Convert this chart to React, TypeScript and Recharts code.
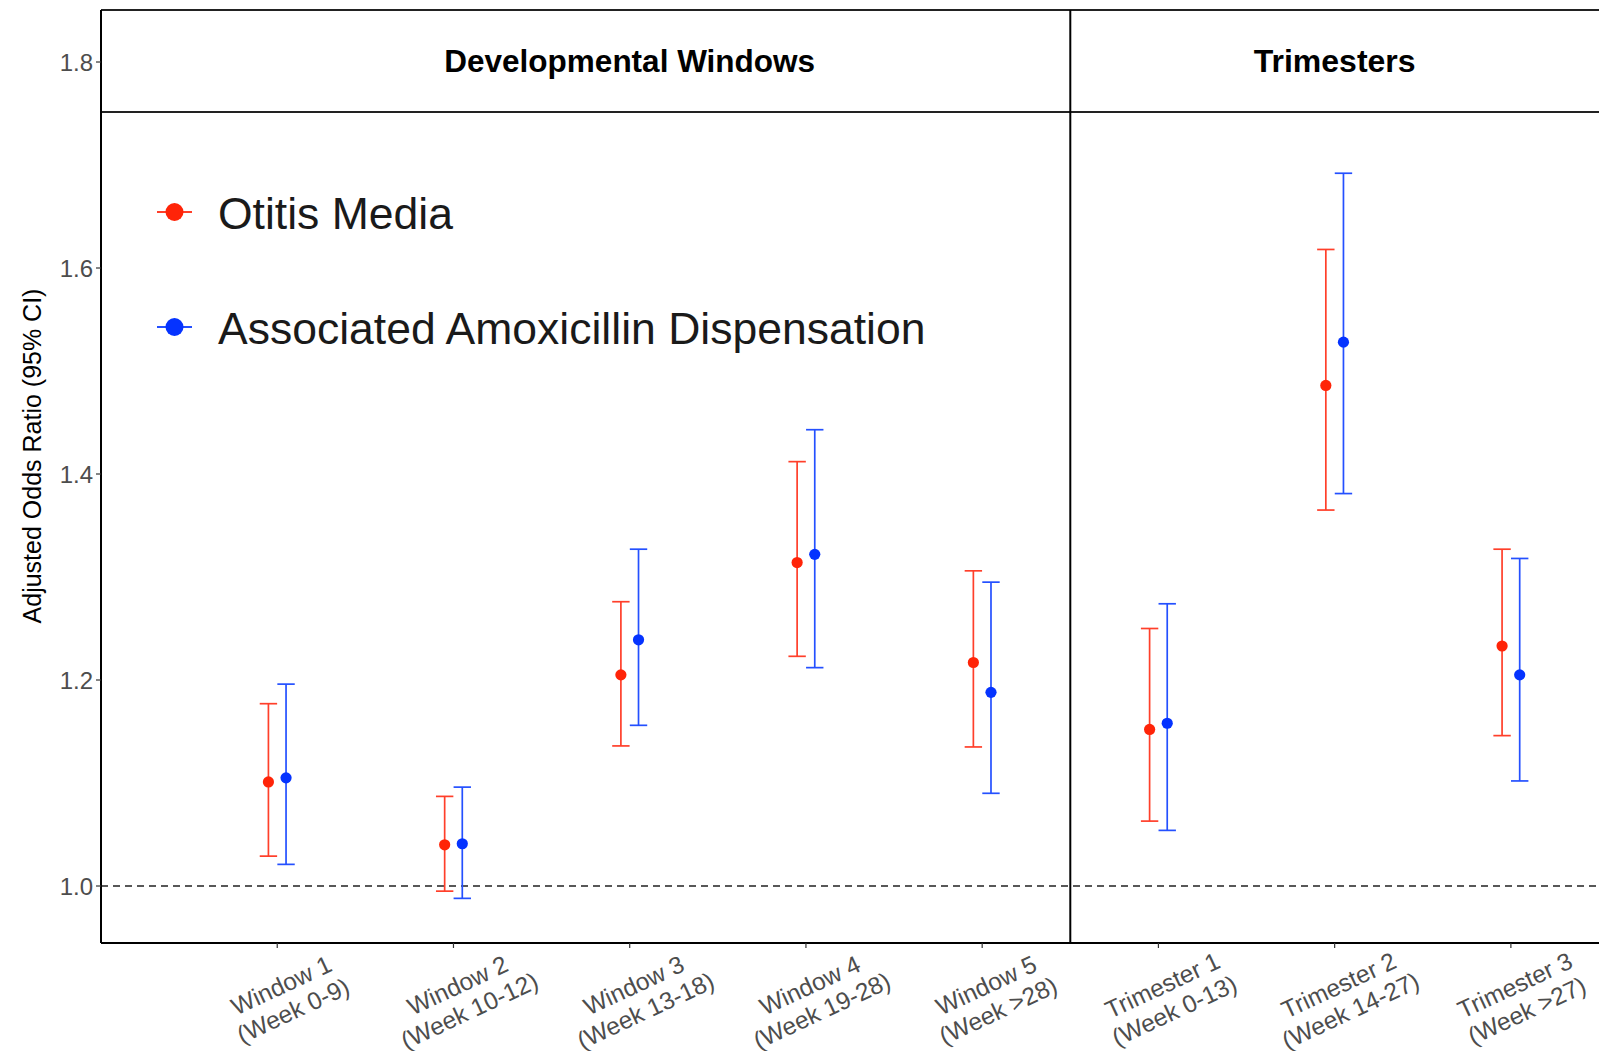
import {
  ComposedChart,
  Scatter,
  ErrorBar,
  XAxis,
  YAxis,
  ReferenceLine,
  ReferenceArea,
  Legend,
} from "recharts";

// exposure windows (x positions 1..8)
const windowTitles = [
  "Window 1", "Window 2", "Window 3", "Window 4", "Window 5",
  "Trimester 1", "Trimester 2", "Trimester 3",
];
const windowWeeks = [
  "(Week 0-9)", "(Week 10-12)", "(Week 13-18)", "(Week 19-28)", "(Week >28)",
  "(Week 0-13)", "(Week 14-27)", "(Week >27)",
];

const seriesNames = ["Otitis Media", "Associated Amoxicillin Dispensation"];

const otitisOR = [1.101, 1.040, 1.205, 1.314, 1.217, 1.152, 1.486, 1.233];
const otitisLow = [1.029, 0.995, 1.136, 1.223, 1.135, 1.063, 1.365, 1.146];
const otitisHigh = [1.177, 1.087, 1.276, 1.412, 1.306, 1.250, 1.618, 1.327];

const amoxOR = [1.105, 1.041, 1.239, 1.322, 1.188, 1.158, 1.528, 1.205];
const amoxLow = [1.021, 0.988, 1.156, 1.212, 1.090, 1.054, 1.381, 1.102];
const amoxHigh = [1.196, 1.096, 1.327, 1.443, 1.295, 1.274, 1.692, 1.318];

const yTicks = [1.0, 1.2, 1.4, 1.6, 1.8];

const RED = "#FF2408";
const RED_BAR = "#FF3F2A";
const BLUE = "#0533FF";
const BLUE_BAR = "#2450FF";
const FONT = "'Liberation Sans', Arial, Helvetica, sans-serif";

const Y_MIN = 0.94466;
const Y_MAX = 1.85049;
const STRIP_BOTTOM = 1.75146;
const DODGE = 0.05;

const build = (or: number[], lo: number[], hi: number[], shift: number) =>
  or.map((v, i) => ({ x: i + 1 + shift, y: v, err: [v - lo[i], hi[i] - v] }));

const otitisData = build(otitisOR, otitisLow, otitisHigh, -DODGE);
const amoxData = build(amoxOR, amoxLow, amoxHigh, DODGE);

const dot = (color: string) => (props: any) => (
  <circle cx={props.cx} cy={props.cy} r={5.6} fill={color} />
);

const XTick = ({ x, y, payload }: any) => {
  const i = Math.round(payload.value) - 1;
  return (
    <g transform={`translate(${x + 10},${y + 48}) rotate(-25)`}>
      <text textAnchor="middle" y={-14} dominantBaseline="central" fontSize={24.5} fill="#4D4D4D" fontFamily={FONT}>
        {windowTitles[i]}
      </text>
      <text textAnchor="middle" y={14} dominantBaseline="central" fontSize={24.5} fill="#4D4D4D" fontFamily={FONT}>
        {windowWeeks[i]}
      </text>
    </g>
  );
};

const LegendBox = () => {
  const colors = [[RED, RED_BAR], [BLUE, BLUE_BAR]];
  return (
    <svg width={860} height={180}>
      {seriesNames.map((name, i) => (
        <g key={name} transform={`translate(0, ${i * 115})`}>
          <line x1={0} x2={35} y1={30} y2={30} stroke={colors[i][1]} strokeWidth={2} />
          <circle cx={17.5} cy={30} r={9} fill={colors[i][0]} />
          <text x={61} y={31} dominantBaseline="central" fontSize={44.5} fill="#1A1A1A" fontFamily={FONT}>
            {name}
          </text>
        </g>
      ))}
    </svg>
  );
};

const YTitle = () => (
  <text
    x={32}
    y={456}
    transform="rotate(-90, 32, 456)"
    textAnchor="middle"
    dominantBaseline="central"
    fontSize={25}
    fill="#000"
    fontFamily={FONT}
  >
    Adjusted Odds Ratio (95% CI)
  </text>
);

export default function App() {
  return (
    <div style={{ position: "absolute", left: 0, top: 0, width: 1599, height: 1051, background: "#fff" }}>
      <ComposedChart width={1599} height={1051} margin={{ top: 10, right: 0, bottom: 0, left: 0 }}>
        <XAxis
          dataKey="x"
          type="number"
          domain={[0, 8.5]}
          ticks={[1, 2, 3, 4, 5, 6, 7, 8]}
          allowDataOverflow
          height={108}
          tick={<XTick />}
          tickSize={5}
          tickLine={{ stroke: "#333", strokeWidth: 1.2 }}
          axisLine={{ stroke: "#000", strokeWidth: 2 }}
        />
        <YAxis
          dataKey="y"
          type="number"
          domain={[Y_MIN, Y_MAX]}
          ticks={yTicks}
          allowDataOverflow
          width={101}
          tickFormatter={(v: number) => v.toFixed(1)}
          tick={{ fontSize: 24, fill: "#4D4D4D", fontFamily: FONT }}
          tickSize={5}
          tickMargin={3}
          tickLine={{ stroke: "#333", strokeWidth: 1.2 }}
          axisLine={{ stroke: "#000", strokeWidth: 2 }}
          label={<YTitle />}
        />
        {/* facet strips */}
        <ReferenceArea
          x1={0.5}
          x2={5.5}
          y1={STRIP_BOTTOM}
          y2={Y_MAX}
          fill="#fff"
          fillOpacity={0}
          stroke="none"
          label={{ value: "Developmental Windows", position: "center", fontSize: 31.5, fontWeight: 700, fill: "#000", fontFamily: FONT }}
        />
        <ReferenceArea
          x1={5.5}
          x2={8.5}
          y1={STRIP_BOTTOM}
          y2={Y_MAX}
          fill="#fff"
          fillOpacity={0}
          stroke="none"
          label={{ value: "Trimesters", position: "center", fontSize: 32, fontWeight: 700, fill: "#000", fontFamily: FONT }}
        />
        <ReferenceLine y={Y_MAX} stroke="#222" strokeWidth={2} />
        <ReferenceLine y={STRIP_BOTTOM} stroke="#222" strokeWidth={2} />
        <ReferenceLine x={5.5} stroke="#000" strokeWidth={2} />
        <ReferenceLine y={1} stroke="#222" strokeWidth={1.3} strokeDasharray="7 5" />

        <Scatter name={seriesNames[0]} data={otitisData} fill={RED} shape={dot(RED)} isAnimationActive={false}>
          <ErrorBar dataKey="err" direction="y" width={8.7} stroke={RED_BAR} strokeWidth={1.7} isAnimationActive={false} />
        </Scatter>
        <Scatter name={seriesNames[1]} data={amoxData} fill={BLUE} shape={dot(BLUE)} isAnimationActive={false}>
          <ErrorBar dataKey="err" direction="y" width={8.7} stroke={BLUE_BAR} strokeWidth={1.7} isAnimationActive={false} />
        </Scatter>

        <Legend
          layout="vertical"
          align="center"
          verticalAlign="middle"
          content={<LegendBox />}
          wrapperStyle={{ position: "absolute", left: 157, top: 182, width: 860, height: 180 }}
        />
      </ComposedChart>
    </div>
  );
}
